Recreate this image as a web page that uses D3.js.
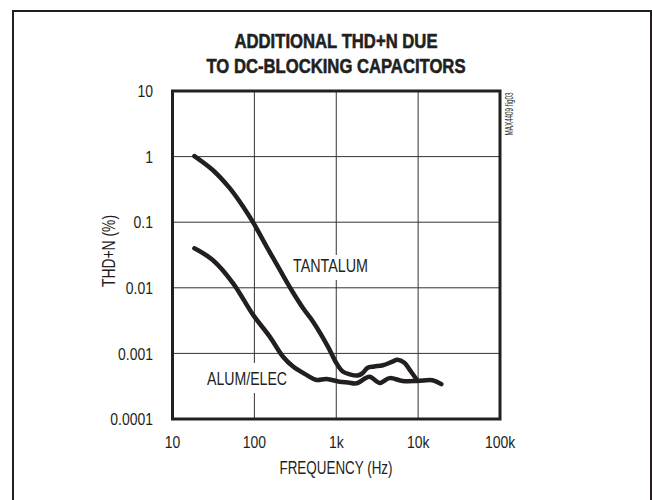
<!DOCTYPE html>
<html>
<head>
<meta charset="utf-8">
<script src="https://cdn.jsdelivr.net/npm/d3@7"></script>
<style>
  html, body { margin: 0; padding: 0; background: #fff; }
  svg { display: block; }
  text { font-family: "Liberation Sans", Arial, sans-serif; fill: #231f20; }
</style>
</head>
<body>
<svg id="chart" width="652" height="500"></svg>
<script>
// ---- data ----
const titleLines = ["ADDITIONAL THD+N DUE", "TO DC-BLOCKING CAPACITORS"];
const xTicks = [10, 100, 1000, 10000, 100000];
const xTickLabels = ["10", "100", "1k", "10k", "100k"];
const yTicks = [0.0001, 0.001, 0.01, 0.1, 1, 10];
const yTickLabels = ["0.0001", "0.001", "0.01", "0.1", "1", "10"];

const tantalumFreq = [18.5, 31, 50, 73, 99, 141, 205, 284, 394, 521, 794, 1005, 1200, 1460, 1830, 2100, 2400, 2900, 3700, 4750, 5600, 6800, 7900, 9600];
const tantalumThd  = [1.02, 0.625, 0.33, 0.172, 0.094, 0.0424, 0.0187, 0.00925, 0.00487, 0.00304, 0.00126, 0.00071, 0.00053, 0.00048, 0.00046, 0.00050, 0.00060, 0.00063, 0.00066, 0.00074, 0.00080, 0.00072, 0.00056, 0.00040];

const alumFreq = [18.5, 31, 55, 96, 154, 224, 297, 433, 573, 760, 1100, 1400, 1770, 2550, 3380, 4480, 6470, 9800, 15000, 19200];
const alumThd  = [0.040, 0.0265, 0.0117, 0.0039, 0.0018, 0.00089, 0.00063, 0.00047, 0.000394, 0.000408, 0.00037, 0.00036, 0.00035, 0.00044, 0.000355, 0.00042, 0.00038, 0.00038, 0.00039, 0.00034];

const seriesLabels = ["TANTALUM", "ALUM/ELEC"];

// ---- layout ----
const svg = d3.select("#chart");
const L = 172.5, R = 500, T = 91, B = 419;
const x = d3.scaleLog().domain([10, 100000]).range([L, R]);
const y = d3.scaleLog().domain([0.0001, 10]).range([B, T]);

// condense text like a narrow face
function narrow(sel, k) {
  sel.each(function() {
    const w = this.getComputedTextLength();
    d3.select(this).attr("textLength", w * (k || 0.82)).attr("lengthAdjust", "spacingAndGlyphs");
  });
}

// outer frame
svg.append("rect").attr("x", 13).attr("y", 11).attr("width", 638).attr("height", 520)
  .attr("fill", "none").attr("stroke", "#231f20").attr("stroke-width", 2);

// title
const titleBase = [47.5, 73];
const titleLen = [203, 259];
titleLines.forEach((t, i) => {
  svg.append("text").attr("x", 336).attr("y", titleBase[i]).attr("text-anchor", "middle")
    .attr("font-size", 21).attr("font-weight", "bold")
    .attr("stroke", "#231f20").attr("stroke-width", 0.6)
    .attr("textLength", titleLen[i]).attr("lengthAdjust", "spacingAndGlyphs").text(t);
});

// gridlines
const g = svg.append("g");
g.selectAll("line.h").data(yTicks.slice(1, -1)).join("line")
  .attr("x1", L).attr("x2", R).attr("y1", d => y(d)).attr("y2", d => y(d))
  .attr("stroke", "#333").attr("stroke-width", 1);
g.selectAll("line.v").data(xTicks.slice(1, -1)).join("line")
  .attr("y1", T).attr("y2", B).attr("x1", d => x(d)).attr("x2", d => x(d))
  .attr("stroke", "#333").attr("stroke-width", 1);

// curve labels with white backgrounds (break gridlines)
const lab = [
  {text: seriesLabels[0], cx: 330.5, base: 272, len: 75, bg: [318, 255, 30, 25]},
  {text: seriesLabels[1], cx: 247, base: 385, len: 80, bg: [240, 363, 30, 30]}
];
lab.forEach(l => {
  svg.append("rect").attr("x", l.bg[0]).attr("y", l.bg[1]).attr("width", l.bg[2]).attr("height", l.bg[3]).attr("fill", "#fff");
  svg.append("text").attr("x", l.cx).attr("y", l.base).attr("text-anchor", "middle")
    .attr("font-size", 18).attr("textLength", l.len).attr("lengthAdjust", "spacingAndGlyphs").text(l.text);
});

// curves
const line = d3.line().x(d => x(d[0])).y(d => y(d[1])).curve(d3.curveCatmullRom.alpha(0.5));
const tantalum = tantalumFreq.map((f, i) => [f, tantalumThd[i]]);
const alum = alumFreq.map((f, i) => [f, alumThd[i]]);
[tantalum, alum].forEach(data => {
  svg.append("path").datum(data).attr("d", line).attr("fill", "none")
    .attr("stroke", "#231f20").attr("stroke-width", 4.5)
    .attr("stroke-linecap", "round").attr("stroke-linejoin", "round");
});

// plot frame
svg.append("rect").attr("x", L).attr("y", T).attr("width", R - L).attr("height", B - T)
  .attr("fill", "none").attr("stroke", "#231f20").attr("stroke-width", 3);

// axes tick labels
svg.selectAll("text.xt").data(xTicks).join("text")
  .attr("x", d => x(d)).attr("y", 448).attr("text-anchor", "middle").attr("font-size", 17)
  .text((d, i) => xTickLabels[i]).call(narrow);
svg.selectAll("text.yt").data(yTicks).join("text")
  .attr("x", 153).attr("y", d => y(d)).attr("dy", "0.36em").attr("text-anchor", "end").attr("font-size", 17)
  .text((d, i) => yTickLabels[i]).call(narrow);

// axis titles
svg.append("text").attr("x", 336).attr("y", 474).attr("text-anchor", "middle").attr("font-size", 18)
  .attr("textLength", 113).attr("lengthAdjust", "spacingAndGlyphs").text("FREQUENCY (Hz)");
svg.append("text").attr("transform", "translate(115,251) rotate(-90)").attr("text-anchor", "middle").attr("font-size", 18)
  .attr("textLength", 72).attr("lengthAdjust", "spacingAndGlyphs").text("THD+N (%)");

// figure id
svg.append("text").attr("transform", "translate(513,114) rotate(-90)").attr("text-anchor", "middle").attr("font-size", 11)
  .attr("textLength", 43).attr("lengthAdjust", "spacingAndGlyphs").text("MAX4409 fig03");
</script>
</body>
</html>
